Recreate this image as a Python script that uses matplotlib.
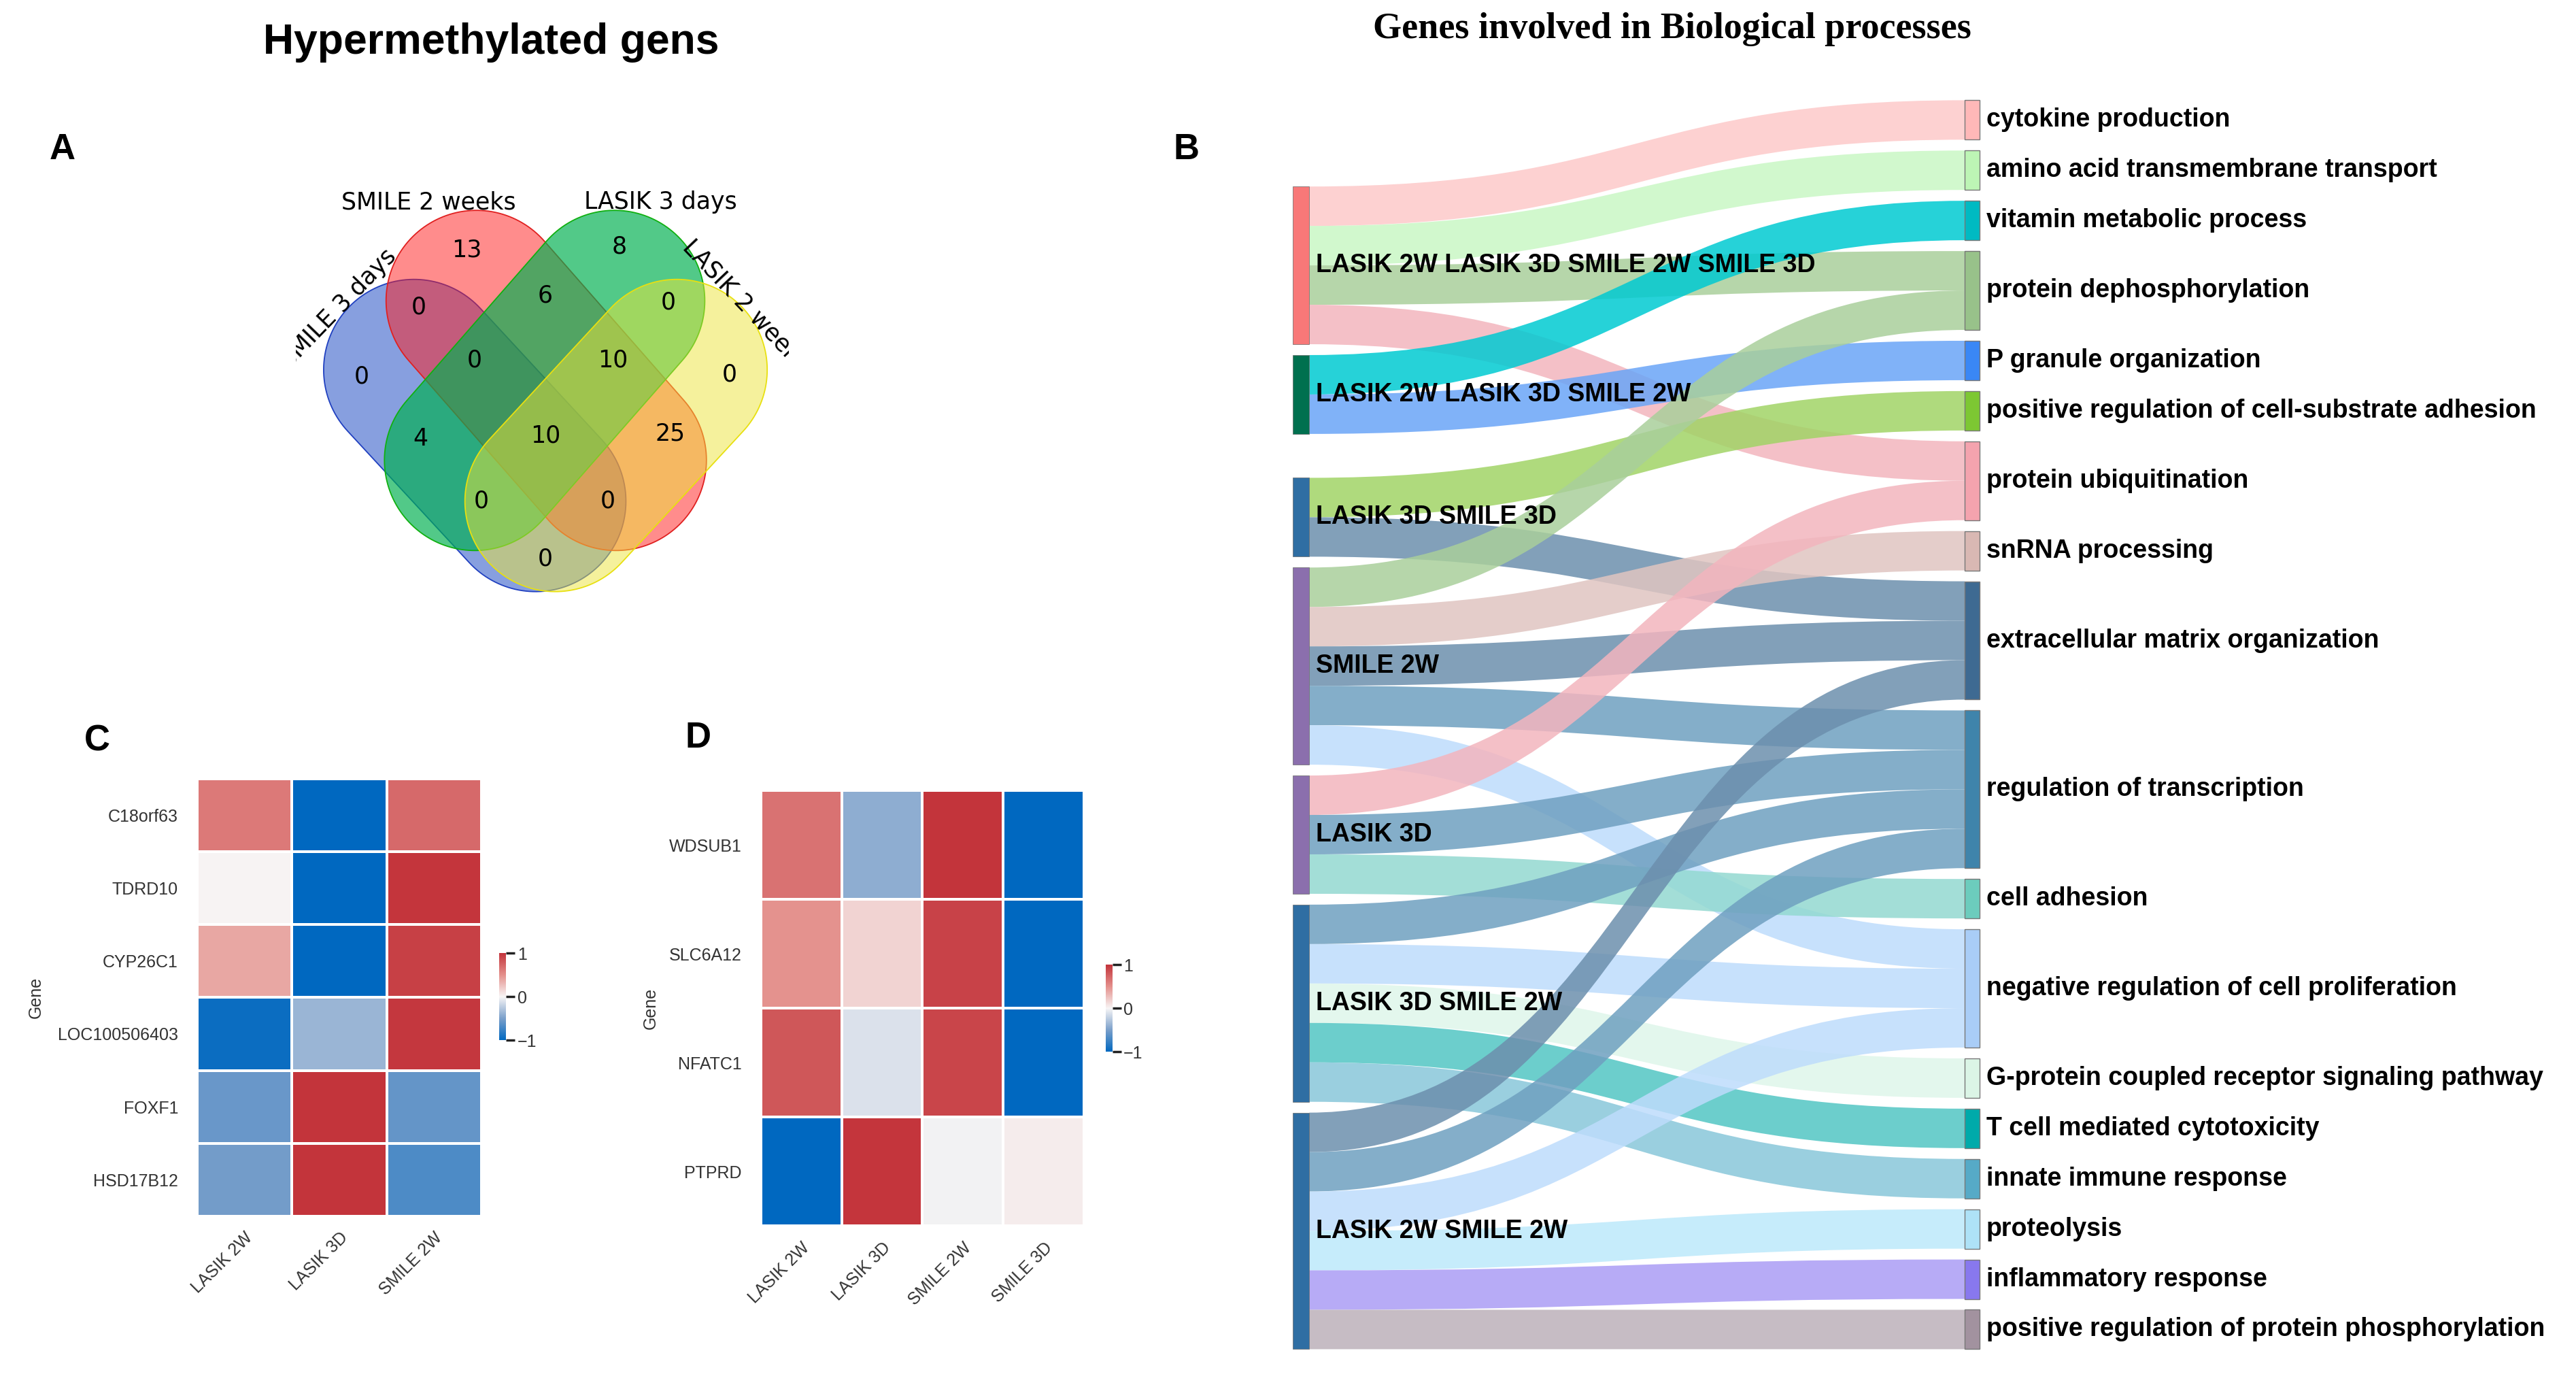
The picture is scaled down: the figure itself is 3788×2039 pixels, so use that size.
import numpy as np
import matplotlib
matplotlib.use('Agg')
import matplotlib.pyplot as plt
from matplotlib.patches import Polygon, Rectangle, PathPatch
from matplotlib.path import Path
from matplotlib.colors import LinearSegmentedColormap
from matplotlib import font_manager

# ---------------- data ----------------
venn_names = ['SMILE 3 days', 'SMILE 2 weeks', 'LASIK 3 days', 'LASIK 2 weeks']
# key = membership in (SMILE 3d, SMILE 2w, LASIK 3d, LASIK 2w)
venn_counts = {'1000': 0, '0100': 13, '0010': 8, '0001': 0,
               '1100': 0, '0110': 6, '0011': 0, '1010': 4, '0101': 25, '1001': 0,
               '1110': 0, '0111': 10, '1011': 0, '1101': 0, '1111': 10}

c_genes = ['C18orf63', 'TDRD10', 'CYP26C1', 'LOC100506403', 'FOXF1', 'HSD17B12']
c_groups = ['LASIK 2W', 'LASIK 3D', 'SMILE 2W']
c_lasik2w = [0.62, 0.01, 0.39, -0.95, -0.57, -0.53]
c_lasik3d = [-1.0, -1.0, -1.0, -0.37, 1.0, 1.0]
c_smile2w = [0.71, 0.99, 0.93, 0.98, -0.59, -0.68]

d_genes = ['WDSUB1', 'SLC6A12', 'NFATC1', 'PTPRD']
d_groups = ['LASIK 2W', 'LASIK 3D', 'SMILE 2W', 'SMILE 3D']
d_lasik2w = [0.66, 0.49, 0.81, -1.0]
d_lasik3d = [-0.42, 0.17, -0.11, 0.99]
d_smile2w = [1.0, 0.92, 0.90, -0.02]
d_smile3d = [-1.0, -1.0, -1.0, 0.04]

sets = ['LASIK 2W LASIK 3D SMILE 2W SMILE 3D', 'LASIK 2W LASIK 3D SMILE 2W',
        'LASIK 3D SMILE 3D', 'SMILE 2W', 'LASIK 3D', 'LASIK 3D SMILE 2W',
        'LASIK 2W SMILE 2W']
processes = ['cytokine production', 'amino acid transmembrane transport',
             'vitamin metabolic process', 'protein dephosphorylation',
             'P granule organization', 'positive regulation of cell-substrate adhesion',
             'protein ubiquitination', 'snRNA processing',
             'extracellular matrix organization', 'regulation of transcription',
             'cell adhesion', 'negative regulation of cell proliferation',
             'G-protein coupled receptor signaling pathway', 'T cell mediated cytotoxicity',
             'innate immune response', 'proteolysis', 'inflammatory response',
             'positive regulation of protein phosphorylation']
link_src = [0, 0, 0, 0, 1, 1, 2, 2, 3, 3, 3, 3, 3, 4, 4, 4,
            5, 5, 5, 5, 5, 6, 6, 6, 6, 6, 6]
link_tgt = [0, 1, 3, 6, 2, 4, 5, 8, 3, 7, 8, 9, 11, 6, 9, 10,
            9, 11, 12, 13, 14, 8, 9, 11, 15, 16, 17]
link_val = [1, 1, 1, 1, 1, 1, 1, 1, 1, 1, 1, 1, 1, 1, 1, 1,
            1, 1, 1, 1, 1, 1, 1, 1, 1, 1, 1]

# ---------------- styles ----------------
set_colors = ['#f87878', '#00704f', '#2f6ea3', '#8b6fad', '#8b6fad', '#2f6ea3', '#2f6ea3']
proc_colors = ['#ffb8b8', '#bdf5b5', '#00bac2', '#98c28a', '#3a87f5', '#7dc733',
               '#f4a3ae', '#d9b8b3', '#3e6a92', '#3f84ab', '#6cccbd', '#a9cdf7',
               '#dbf5e6', '#00aaaa', '#56aac7', '#aee2f7', '#8878ee', '#a2929f']
link_colors = ['#fdc9c9', '#c9f7c5', '#00cad2', '#a9cf9b', '#6aa5f7', '#a1d466',
               '#f3b5be', '#e0c5c1', '#6c8fad', '#6fa0c0', '#93d9d1', '#bedcfc',
               '#def6ea', '#52c6c4', '#88c7da', '#bce9fb', '#ab9df5', '#bcb1ba']

venn_fill = [('#1040c0', 0.5), ('#ff1a1a', 0.5), ('#00b050', 0.68), ('#ece53a', 0.5)]
venn_edge = ['#2040c0', '#e02020', '#10b010', '#e8e010']
# stadium shapes: two end centres + radius (display px)
venn_shapes = [((252, 225), (326, 305)), ((290, 183), (375, 280)),
               ((374, 183), (289, 280)), ((412, 225), (338, 305))]
venn_r = 55
venn_name_pos = [(206, 188, 46), (261, 123, 0), (402, 123, 0), (454, 186, -46.5)]
venn_count_pos = {'1000': (220, 229), '0100': (284, 152), '0010': (377, 150), '0001': (444, 228),
                  '1100': (255, 187), '0110': (332, 180), '0011': (407, 184), '1010': (256, 267),
                  '0101': (408, 264), '1001': (332, 340), '1110': (289, 219), '0111': (373, 219),
                  '1011': (293, 305), '1101': (370, 305), '1111': (332, 265)}

W, H = 1568, 844
fig = plt.figure(figsize=(37.88, 20.39), dpi=100)

def fa(x0, y0, x1, y1):
    return [x0 / W, 1 - y1 / H, (x1 - x0) / W, (y1 - y0) / H]

names = {f.name for f in font_manager.fontManager.ttflist}
if 'Liberation Sans Narrow' in names:
    sk_family, sk_size = 'Liberation Sans Narrow', 31
else:
    sk_family, sk_size = 'Liberation Sans', 27

# overlay in display-pixel coordinates
ov = fig.add_axes([0, 0, 1, 1])
ov.set_xlim(0, W)
ov.set_ylim(H, 0)
ov.axis('off')

ov.text(299, 26, 'Hypermethylated gens', fontsize=45, fontweight='bold',
        family='Liberation Sans', ha='center', va='center')
ov.text(1018, 18, 'Genes involved in Biological processes', fontsize=39, fontweight='bold',
        family='Liberation Serif', ha='center', va='center')
for lab, x, y in [('A', 38, 91), ('B', 722, 91), ('C', 59, 451), ('D', 425, 449)]:
    ov.text(x, y, lab, fontsize=38, fontweight='bold', family='Liberation Sans',
            ha='center', va='center')

# ---------------- A: venn ----------------
va = fig.add_axes(fa(180, 110, 480, 365))
va.set_xlim(180, 480)
va.set_ylim(365, 110)
va.axis('off')

def stadium(c1, c2, r, n=80):
    c1, c2 = np.array(c1, float), np.array(c2, float)
    d = c2 - c1
    th = np.arctan2(d[1], d[0])
    a1 = np.linspace(th - np.pi / 2, th + np.pi / 2, n)
    a2 = np.linspace(th + np.pi / 2, th + 3 * np.pi / 2, n)
    return np.vstack([c2 + r * np.c_[np.cos(a1), np.sin(a1)],
                      c1 + r * np.c_[np.cos(a2), np.sin(a2)]])

for (c1, c2), (fc, al), ec in zip(venn_shapes, venn_fill, venn_edge):
    pts = stadium(c1, c2, venn_r)
    va.add_patch(Polygon(pts, closed=True, facecolor=fc, alpha=al, edgecolor='none'))
    va.add_patch(Polygon(pts, closed=True, facecolor='none', edgecolor=ec, lw=1.3))

for key, (x, y) in venn_count_pos.items():
    va.text(x, y, str(venn_counts[key]), fontsize=25, ha='center', va='center')
for name, (x, y, rot) in zip(venn_names, venn_name_pos):
    va.text(x, y, name, fontsize=25, ha='center', va='center', rotation=rot,
            rotation_mode='anchor', clip_on=True)

# ---------------- C / D: heatmaps ----------------
cmap = LinearSegmentedColormap.from_list(
    'rb', [(0, '#0068c0'), (0.25, '#7a9fca'), (0.5, '#f7f5f5'), (0.75, '#e4908c'), (1, '#c3343b')])

def heatmap(rect, crect, genes, groups, cols, gene_x):
    ax = fig.add_axes(fa(*rect))
    M = np.array(cols).T
    m = ax.pcolormesh(np.arange(len(groups) + 1), np.arange(len(genes) + 1), M, cmap=cmap,
                      vmin=-1, vmax=1, edgecolors='white', linewidth=1.5)
    ax.set_xlim(0, len(groups))
    ax.set_ylim(len(genes), 0)
    ax.set_xticks(np.arange(len(groups)) + 0.5)
    ax.set_xticklabels(groups, rotation=45, ha='right', rotation_mode='anchor')
    ax.set_yticks(np.arange(len(genes)) + 0.5)
    ax.set_yticklabels(genes)
    ax.tick_params(length=0, labelsize=18, colors='#333333')
    ax.tick_params(axis='y', pad=20)
    ax.tick_params(axis='x', pad=14)
    for s in ax.spines.values():
        s.set_visible(False)
    cax = fig.add_axes(fa(*crect))
    cb = fig.colorbar(m, cax=cax, ticks=[-1, 0, 1])
    cb.outline.set_visible(False)
    cax.tick_params(length=9, width=2.5, labelsize=18, colors='#333333', pad=3)
    cax.tick_params(which='both', color='#222222')
    ov.text(gene_x, (rect[1] + rect[3]) / 2, 'Gene', rotation=90, fontsize=18,
            color='#333333', ha='center', va='center', family='Liberation Sans')

plt.rcParams['font.family'] = 'Liberation Sans'
heatmap((120, 474, 293, 740), (304, 580, 308, 633), c_genes, c_groups,
        [c_lasik2w, c_lasik3d, c_smile2w], 22)
heatmap((463, 481, 660, 746), (673, 587, 677, 640), d_genes, d_groups,
        [d_lasik2w, d_lasik3d, d_smile2w, d_smile3d], 396)

# ---------------- B: sankey ----------------
xl0, xl1 = 787, 797       # left node x span
xr0, xr1 = 1196, 1205     # right node x span
top, bottom, gap = 61, 821, 6.6

n_l, n_r = len(sets), len(processes)
size_l = np.zeros(n_l)
size_r = np.zeros(n_r)
for s, t, v in zip(link_src, link_tgt, link_val):
    size_l[s] += v
    size_r[t] += v
unit = (bottom - top - gap * (n_r - 1)) / size_r.sum()

# right column stacked
ry0 = np.zeros(n_r)
y = top
for i in range(n_r):
    ry0[i] = y
    y += size_r[i] * unit + gap
rc = ry0 + size_r * unit / 2

# left column: weighted mean of targets, then resolve overlaps
lc = np.zeros(n_l)
for i in range(n_l):
    w = [(v, rc[t]) for s, t, v in zip(link_src, link_tgt, link_val) if s == i]
    lc[i] = sum(a * b for a, b in w) / sum(a for a, _ in w)
lh = size_l * unit
ly0 = lc - lh / 2
y = top
for i in range(n_l):
    ly0[i] = max(ly0[i], y)
    y = ly0[i] + lh[i] + gap
y = bottom
for i in range(n_l - 1, -1, -1):
    if ly0[i] + lh[i] > y:
        ly0[i] = y - lh[i]
    y = ly0[i] - gap

# link offsets
order = sorted(range(len(link_src)), key=lambda k: (link_src[k], link_tgt[k]))
s_off = ly0.copy()
sy = {}
for k in order:
    sy[k] = s_off[link_src[k]]
    s_off[link_src[k]] += link_val[k] * unit
order = sorted(range(len(link_src)), key=lambda k: (link_tgt[k], link_src[k]))
t_off = ry0.copy()
ty = {}
for k in order:
    ty[k] = t_off[link_tgt[k]]
    t_off[link_tgt[k]] += link_val[k] * unit

xm = (xl1 + xr0) / 2
for k in range(len(link_src)):
    h = link_val[k] * unit
    a0, a1 = sy[k], sy[k] + h
    b0, b1 = ty[k], ty[k] + h
    verts = [(xl1, a0), (xm, a0), (xm, b0), (xr0, b0), (xr0, b1),
             (xm, b1), (xm, a1), (xl1, a1), (xl1, a0)]
    codes = [Path.MOVETO, Path.CURVE4, Path.CURVE4, Path.CURVE4, Path.LINETO,
             Path.CURVE4, Path.CURVE4, Path.CURVE4, Path.CLOSEPOLY]
    ov.add_patch(PathPatch(Path(verts, codes), facecolor=link_colors[link_tgt[k]],
                           edgecolor='none', alpha=0.85, zorder=2))

for i in range(n_l):
    ov.add_patch(Rectangle((xl0, ly0[i]), xl1 - xl0, lh[i], facecolor=set_colors[i],
                           edgecolor='#666666', lw=0.5, zorder=3))
    ov.text(xl1 + 4, ly0[i] + lh[i] / 2, sets[i], fontsize=sk_size, fontweight='bold',
            family=sk_family, ha='left', va='center', zorder=4)
for i in range(n_r):
    ov.add_patch(Rectangle((xr0, ry0[i]), xr1 - xr0, size_r[i] * unit,
                           facecolor=proc_colors[i], edgecolor='#777777', lw=1, zorder=3))
    ov.text(xr1 + 4, rc[i], processes[i], fontsize=sk_size, fontweight='bold',
            family=sk_family, ha='left', va='center', zorder=4)

fig.savefig('out.png', dpi=100)
